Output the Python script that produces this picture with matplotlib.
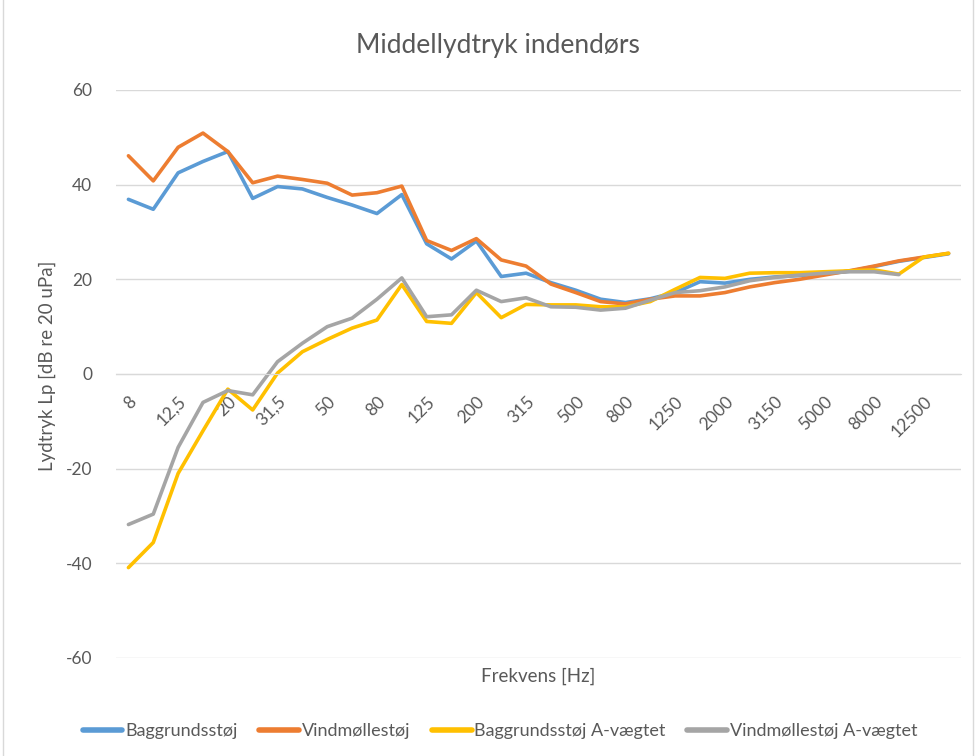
import matplotlib
matplotlib.use("Agg")
import matplotlib.pyplot as plt
import numpy as np

frequencies = ["8", "10", "12,5", "16", "20", "25", "31,5", "40", "50", "63", "80", "100",
               "125", "160", "200", "250", "315", "400", "500", "630", "800", "1000",
               "1250", "1600", "2000", "2500", "3150", "4000", "5000", "6300", "8000",
               "10000", "12500", "16000"]

baggrund = [36.9, 34.8, 42.5, 44.9, 47.0, 37.1, 39.6, 39.1, 37.3, 35.7, 33.9, 37.9,
            27.5, 24.3, 28.1, 20.6, 21.3, 19.3, 17.7, 15.8, 15.1, 15.9, 17.2, 19.5,
            19.2, 20.0, 20.5, 20.8, 21.2, 21.7, 22.7, 23.8, 24.6, 25.4]

vindmolle = [46.1, 40.8, 47.9, 50.9, 47.0, 40.4, 41.8, 41.1, 40.3, 37.8, 38.3, 39.7,
             28.2, 26.1, 28.6, 24.1, 22.8, 19.0, 17.2, 15.3, 14.8, 15.8, 16.5, 16.5,
             17.2, 18.4, 19.3, 20.0, 20.9, 21.8, 22.8, 23.9, 24.7, 25.5]

baggrund_a = [-40.9, -35.6, -21.0, -12.0, -3.2, -7.6, 0.2, 4.7, 7.3, 9.7, 11.4, 18.9,
              11.1, 10.7, 17.2, 11.9, 14.7, 14.6, 14.6, 14.2, 14.2, 15.3, 17.9, 20.4,
              20.2, 21.3, 21.4, 21.4, 21.6, 21.8, 22.0, 21.1, 24.7, 25.5]

vindmolle_a = [-31.8, -29.6, -15.5, -6.0, -3.5, -4.4, 2.6, 6.5, 10.0, 11.8, 15.8, 20.3,
               12.1, 12.5, 17.7, 15.3, 16.1, 14.2, 14.1, 13.5, 13.9, 15.6, 17.2, 17.6,
               18.4, 19.7, 20.4, 20.9, 21.3, 21.6, 21.6, 21.0, np.nan, np.nan]

series_names = ["Baggrundsstøj", "Vindmøllestøj", "Baggrundsstøj A-vægtet", "Vindmøllestøj A-vægtet"]
colors = ["#5B9BD5", "#ED7D31", "#FFC000", "#A5A5A5"]

plt.rcParams['font.family'] = ['Lato', 'DejaVu Sans']
plt.rcParams['axes.unicode_minus'] = False
text_color = "#595959"

fig = plt.figure(figsize=(9.76, 7.56), dpi=100)
ax = fig.add_axes([116/976, 1 - 658/756, (961-116)/976, (658-90)/756])

x = np.arange(len(frequencies))
for data, name, c in zip([baggrund, vindmolle, baggrund_a, vindmolle_a], series_names, colors):
    ax.plot(x, data, color=c, lw=2.6, label=name, solid_joinstyle='round', solid_capstyle='round')

ax.set_xlim(-0.5, len(frequencies) - 0.5)
ax.set_ylim(-60, 60)
ax.set_yticks(np.arange(-60, 61, 20))
ax.yaxis.grid(True, color="#D9D9D9", lw=1)
ax.set_axisbelow(True)
for s in ["top", "right", "left"]:
    ax.spines[s].set_visible(False)
ax.spines["bottom"].set_position(("data", 0))
ax.spines["bottom"].set_color("#D9D9D9")
ax.tick_params(axis='y', length=0, pad=17, labelsize=12.5, labelcolor=text_color)

ax.set_xticks(x[::2])
ax.set_xticklabels(frequencies[::2], rotation=45, ha='right', va='top', rotation_mode='anchor')
ax.tick_params(axis='x', length=0, pad=14, labelsize=12.5, labelcolor=text_color)

fig.text(498/976, 1 - 46/756, "Middellydtryk indendørs", ha='center', va='center',
         fontsize=19, color=text_color)
fig.text(47/976, 1 - 366/756, "Lydtryk Lp [dB re 20 uPa]", ha='center', va='center',
         rotation=90, fontsize=13.5, color=text_color)
fig.text(538/976, 1 - 676/756, "Frekvens [Hz]", ha='center', va='center',
         fontsize=13.5, color=text_color)

leg = fig.legend(loc='center', bbox_to_anchor=(500/976, 1 - 731/756), ncol=4, frameon=False,
                 fontsize=13, handlelength=2.2, handletextpad=0.15, columnspacing=1.2)
for t in leg.get_texts():
    t.set_color(text_color)
for h in leg.legend_handles:
    h.set_linewidth(4)

fig.patches.append(plt.Rectangle((3/976, -0.01), 1 - 6/976, 1.02, transform=fig.transFigure,
                                 fill=False, edgecolor="#D9D9D9", lw=1))

fig.savefig("out.png", dpi=100)
